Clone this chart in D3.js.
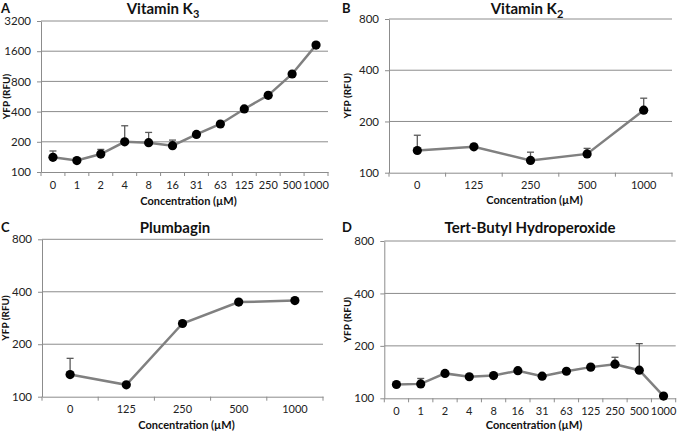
<!DOCTYPE html>
<html><head><meta charset="utf-8">
<script src="https://cdn.jsdelivr.net/npm/d3@7"></script>
<style>body{margin:0;background:#fff}svg{display:block}text{font-family:Lato,"Open Sans",sans-serif}</style>
</head><body>
<svg id="c" width="679" height="431"></svg>
<script>
// ---- data ----
const catsA = ["0","1","2","4","8","16","31","63","125","250","500","1000"];
const valsA = [140,130,151,200,196,183,237,301,425,581,948,1840];
const errA  = [162,null,168,289,248,208,245,null,null,null,null,1950];
const ticksA = [100,200,400,800,1600,3200];

const catsB = ["0","125","250","500","1000"];
const valsB = [135,142,118,129,233];
const errB  = [166,null,132,139,274];
const ticksB = [100,200,400,800];

const catsC = ["0","125","250","500","1000"];
const valsC = [134,117,263,349,356];
const errC  = [166,null,null,null,null];
const ticksC = [100,200,400,800];

const catsD = ["0","1","2","4","8","16","31","63","125","250","500","1000"];
const valsD = [120,121,139,133,135,144,134,143,151,157,145,103];
const errD  = [null,130,null,null,null,null,null,null,null,172,206,null];
const ticksD = [100,200,400,800];

const svg = d3.select("#c");

function panel(o){
  const g = svg.append("g");
  const x = d3.scaleBand().domain(o.cats).range([o.left,o.right]);
  const y = d3.scaleLog().base(2).domain([o.ticks[0],o.ticks[o.ticks.length-1]]).range([o.bottom,o.top]);
  g.selectAll(".grid").data(o.ticks.slice(1)).enter().append("line")
    .attr("x1",o.left).attr("x2",o.right).attr("y1",d=>y(d)).attr("y2",d=>y(d))
    .attr("stroke","#8c8c8c").attr("stroke-width",1);
  const ya = d3.axisLeft(y).tickValues(o.ticks).tickFormat(d3.format("d")).tickSizeInner(4).tickSizeOuter(0).tickPadding(6);
  const yg = g.append("g").attr("transform",`translate(${o.left},0)`).call(ya);
  yg.select(".domain").attr("stroke","#8c8c8c");
  yg.selectAll(".tick line").attr("stroke","#8c8c8c");
  yg.selectAll("text").attr("font-size",11.5).attr("fill","#222");
  const xa = d3.axisBottom(x).tickSize(0).tickPadding(9);
  const xg = g.append("g").attr("transform",`translate(0,${o.bottom})`).call(xa);
  xg.select(".domain").attr("stroke","#8c8c8c");
  xg.selectAll("text").attr("font-size",11).attr("fill","#222");
  const bounds = o.cats.map(c=>x(c)).concat([o.right]);
  g.selectAll(".xt").data(bounds).enter().append("line")
    .attr("x1",d=>d).attr("x2",d=>d).attr("y1",o.bottom).attr("y2",o.bottom+4)
    .attr("stroke","#8c8c8c");
  const cx = c=>x(c)+x.bandwidth()/2;
  const pts = o.cats.map((c,i)=>({c, v:o.vals[i], e:o.err[i]}));
  const eb = pts.filter(p=>p.e!=null);
  g.selectAll(".eb").data(eb).enter().append("line")
    .attr("x1",p=>cx(p.c)).attr("x2",p=>cx(p.c)).attr("y1",p=>y(p.v)).attr("y2",p=>y(p.e))
    .attr("stroke","#5a5a5a").attr("stroke-width",1.3);
  g.selectAll(".ec").data(eb).enter().append("line")
    .attr("x1",p=>cx(p.c)-3.5).attr("x2",p=>cx(p.c)+3.5).attr("y1",p=>y(p.e)).attr("y2",p=>y(p.e))
    .attr("stroke","#5a5a5a").attr("stroke-width",1.3);
  g.append("path").datum(pts)
    .attr("d",d3.line().x(p=>cx(p.c)).y(p=>y(p.v)))
    .attr("fill","none").attr("stroke","#808080").attr("stroke-width",2.5);
  g.selectAll(".pt").data(pts).enter().append("circle")
    .attr("cx",p=>cx(p.c)).attr("cy",p=>y(p.v)).attr("r",4.6).attr("fill","#000");
  const t = g.append("text").attr("x",o.titleX).attr("y",o.titleY).attr("text-anchor","middle")
    .attr("font-size",15).attr("font-weight","bold").attr("fill","#111");
  t.append("tspan").text(o.title);
  if(o.sub){ t.append("tspan").attr("font-size",11).attr("dy",4).text(o.sub); }
  g.append("text").attr("x",o.letterX).attr("y",o.titleY-1).attr("font-family","Liberation Sans, Arial, sans-serif")
    .attr("font-size",13).attr("font-weight","bold").attr("fill","#111").text(o.letter);
  g.append("text").attr("x",(o.left+o.right)/2+4).attr("y",o.xTitleY).attr("text-anchor","middle")
    .attr("font-size",11).attr("font-weight","bold").attr("fill","#111").text("Concentration (µM)");
  g.append("text").attr("transform",`translate(${o.yTitleX},${(o.top+o.bottom)/2}) rotate(-90)`)
    .attr("text-anchor","middle").attr("font-size",10).attr("font-weight","bold").attr("fill","#111").text("YFP (RFU)");
}

panel({cats:catsA, vals:valsA, err:errA, ticks:ticksA, left:41, right:328, top:21, bottom:172,
  title:"Vitamin K", sub:"3", titleX:163, titleY:14, letter:"A", letterX:1, xTitleY:205, yTitleX:10});
panel({cats:catsB, vals:valsB, err:errB, ticks:ticksB, left:389, right:672, top:19, bottom:172.7,
  title:"Vitamin K", sub:"2", titleX:527, titleY:14, letter:"B", letterX:342, xTitleY:204, yTitleX:351});
panel({cats:catsC, vals:valsC, err:errC, ticks:ticksC, left:42, right:323, top:239.3, bottom:396.7,
  title:"Plumbagin", titleX:175, titleY:233, letter:"C", letterX:1, xTitleY:429, yTitleX:9});
panel({cats:catsD, vals:valsD, err:errD, ticks:ticksD, left:384.3, right:675.7, top:241, bottom:398.3,
  title:"Tert-Butyl Hydroperoxide", titleX:530, titleY:233, letter:"D", letterX:342, xTitleY:429, yTitleX:351});
</script>
</body></html>
